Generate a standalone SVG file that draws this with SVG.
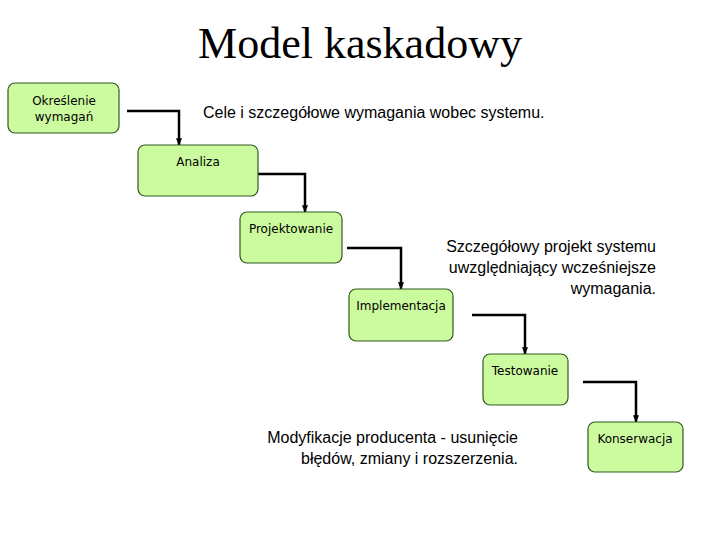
<svg xmlns="http://www.w3.org/2000/svg" width="720" height="540" viewBox="0 0 720 540">
<defs>
<marker id="ah" viewBox="0 0 10 10" refX="9" refY="5" markerWidth="3" markerHeight="3" orient="auto"><path d="M0,1 L10,5 L0,9 z" fill="#000"/></marker>
<style>
.n{fill:#ccfa9e;stroke:#2f5a1e;stroke-width:1.2}
.nt{font-family:"DejaVu Sans",Verdana,sans-serif;font-size:12px;fill:#000;text-anchor:middle}
.c{fill:none;stroke:#000;stroke-width:2.5;marker-end:url(#ah)}
.d{font-family:"Liberation Sans",Arial,sans-serif;font-size:16px;fill:#000}
</style>
</defs>
<rect width="720" height="540" fill="#fff"/>
<text x="360" y="58" font-family="Liberation Serif,Times New Roman,serif" font-size="44" text-anchor="middle">Model kaskadowy</text>
<g id="connectors">
<path class="c" d="M127,111 H179 V145"/>
<path class="c" d="M258,174 H305 V212"/>
<path class="c" d="M347,248 H401 V289"/>
<path class="c" d="M472,315 H525 V354"/>
<path class="c" d="M583,382 H636 V422"/>
</g>
<g id="n1"><rect class="n" x="8" y="83" width="111" height="50" rx="7"/><text class="nt" x="64" y="105">Określenie</text><text class="nt" x="64" y="121">wymagań</text></g>
<g id="n2"><rect class="n" x="138" y="145" width="120" height="51" rx="7"/><text class="nt" x="198" y="166">Analiza</text></g>
<g id="n3"><rect class="n" x="240" y="212" width="102" height="51" rx="7"/><text class="nt" x="291" y="233">Projektowanie</text></g>
<g id="n4"><rect class="n" x="349" y="289" width="104" height="52" rx="7"/><text class="nt" x="401" y="310">Implementacja</text></g>
<g id="n5"><rect class="n" x="483" y="354" width="85" height="51" rx="7"/><text class="nt" x="525" y="375">Testowanie</text></g>
<g id="n6"><rect class="n" x="588" y="422" width="95" height="50" rx="7"/><text class="nt" x="635" y="443">Konserwacja</text></g>
<text class="d" x="203" y="118">Cele i szczegółowe wymagania wobec systemu.</text>
<g class="d" text-anchor="end"><text x="656" y="252">Szczegółowy projekt systemu</text><text x="656" y="273">uwzględniający wcześniejsze</text><text x="656" y="294">wymagania.</text></g>
<g class="d" text-anchor="end"><text x="518" y="443">Modyfikacje producenta - usunięcie</text><text x="518" y="464">błędów, zmiany i rozszerzenia.</text></g>
</svg>
